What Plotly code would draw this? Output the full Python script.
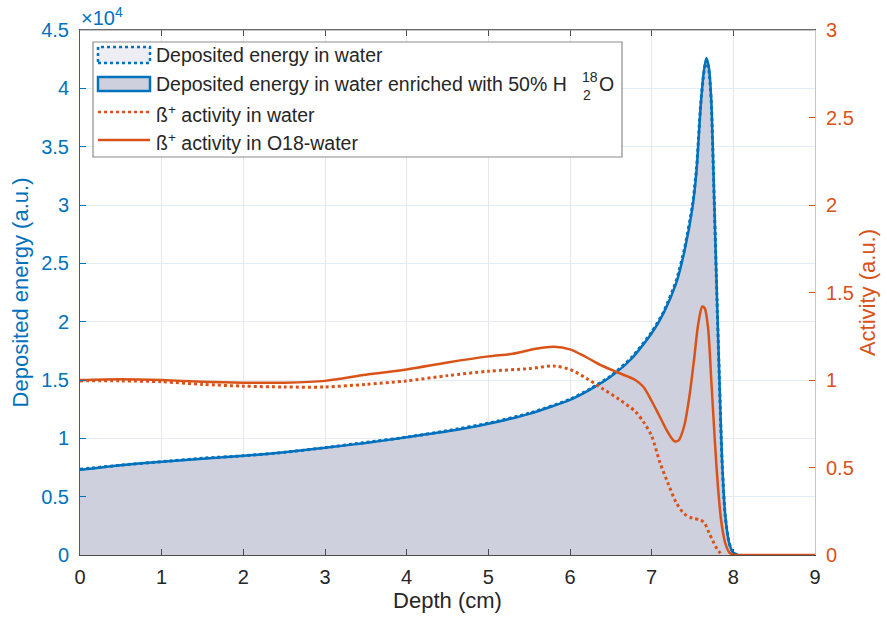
import plotly.graph_objects as go

# ---------------- data ----------------
depth_e = [0, 0.5, 1, 1.5, 2, 2.5, 3, 3.5, 4, 4.5, 5, 5.5, 6, 6.25, 6.5, 6.75, 7.0, 7.15, 7.3,
           7.4, 7.5, 7.55, 7.6, 7.64, 7.67, 7.70, 7.73, 7.76, 7.8, 7.83, 7.86, 7.9, 7.95, 8.0, 8.05]
energy_o18 = [0.73, 0.77, 0.80, 0.825, 0.85, 0.88, 0.92, 0.96, 1.01, 1.06, 1.125, 1.21, 1.33, 1.42,
              1.53, 1.68, 1.90, 2.08, 2.33, 2.60, 2.98, 3.30, 3.85, 4.15, 4.26, 4.18, 3.90, 3.20,
              2.20, 1.50, 0.85, 0.35, 0.10, 0.02, 0.0]
energy_water = [0.735, 0.77, 0.80, 0.83, 0.85, 0.88, 0.92, 0.965, 1.01, 1.065, 1.13, 1.215, 1.335, 1.425,
                1.535, 1.69, 1.91, 2.09, 2.35, 2.62, 3.00, 3.32, 3.86, 4.14, 4.24, 4.16, 3.88, 3.18,
                2.18, 1.48, 0.83, 0.34, 0.10, 0.02, 0.0]

depth_a18 = [0, 0.5, 1, 1.5, 2, 2.5, 3, 3.5, 4, 4.5, 5, 5.3, 5.6, 5.8, 6.0, 6.2, 6.4, 6.6, 6.8, 6.9,
             7.0, 7.1, 7.2, 7.28, 7.33, 7.4, 7.46, 7.52, 7.57, 7.62, 7.65, 7.69, 7.73, 7.77, 7.81,
             7.85, 7.9, 7.95, 8.0, 8.1, 8.5, 9.0]
activity_o18 = [1.0, 1.005, 1.0, 0.99, 0.985, 0.985, 0.995, 1.03, 1.06, 1.10, 1.135, 1.15, 1.18, 1.19,
                1.175, 1.13, 1.08, 1.04, 1.0, 0.96, 0.88, 0.79, 0.70, 0.65, 0.655, 0.74, 0.90, 1.12,
                1.32, 1.42, 1.41, 1.30, 1.0, 0.68, 0.40, 0.20, 0.07, 0.015, 0.0, 0.0, 0.0, 0.0]

depth_aw = [0, 0.5, 1, 1.5, 2, 2.5, 3, 3.5, 4, 4.5, 5, 5.5, 5.8, 6.0, 6.2, 6.4, 6.6, 6.8, 6.9, 7.0,
            7.1, 7.2, 7.3, 7.4, 7.5, 7.6, 7.65, 7.7, 7.75, 7.8, 7.86]
activity_water = [0.995, 0.995, 0.99, 0.975, 0.965, 0.96, 0.96, 0.975, 0.995, 1.025, 1.05, 1.065,
                  1.08, 1.06, 1.01, 0.95, 0.89, 0.82, 0.76, 0.68, 0.53, 0.41, 0.30, 0.235, 0.21,
                  0.20, 0.18, 0.13, 0.08, 0.035, 0.0]

x_ticks = [0, 1, 2, 3, 4, 5, 6, 7, 8, 9]
left_ticks = [0, 0.5, 1, 1.5, 2, 2.5, 3, 3.5, 4, 4.5]
right_ticks = [0, 0.5, 1, 1.5, 2, 2.5, 3]

BLUE = "#0072BD"
ORANGE = "#D95319"
FILL = "#CFD0DD"
TXT = "#262626"
FONT = "Liberation Sans, Arial, sans-serif"

fig = go.Figure()
fig.add_trace(go.Scatter(x=depth_e, y=energy_o18, mode="lines", fill="tozeroy", fillcolor=FILL,
                         line=dict(color=BLUE, width=2.5, shape="spline", smoothing=0.6), showlegend=False))
fig.add_trace(go.Scatter(x=depth_e, y=energy_water, mode="lines",
                         line=dict(color=BLUE, width=3, dash="dot", shape="spline", smoothing=0.6),
                         showlegend=False))
fig.add_trace(go.Scatter(x=depth_aw, y=activity_water, mode="lines", yaxis="y2",
                         line=dict(color=ORANGE, width=3, dash="dot", shape="spline", smoothing=0.8),
                         showlegend=False))
fig.add_trace(go.Scatter(x=depth_a18, y=activity_o18, mode="lines", yaxis="y2",
                         line=dict(color=ORANGE, width=2.5, shape="spline", smoothing=0.8),
                         showlegend=False))

# plot-area pixel geometry helpers (layout only)
PL, PR, PT, PB = 80, 815, 30, 555
def px(x):
    return (x - PL) / (PR - PL)
def py(y):
    return (PB - y) / (PB - PT)

shapes = []
annotations = []
# legend box
shapes.append(dict(type="rect", xref="paper", yref="paper", x0=px(93), x1=px(622), y0=py(157), y1=py(42),
                   line=dict(color="#8c8c8c", width=1.2), fillcolor="white", layer="above"))
# legend symbols
shapes.append(dict(type="rect", xref="paper", yref="paper", x0=px(98), x1=px(150), y0=py(63), y1=py(47),
                   line=dict(color=BLUE, width=2.5, dash="dot"), fillcolor="#EDEDF3", layer="above"))
shapes.append(dict(type="rect", xref="paper", yref="paper", x0=px(98), x1=px(150), y0=py(91), y1=py(77),
                   line=dict(color=BLUE, width=2.5), fillcolor=FILL, layer="above"))
shapes.append(dict(type="line", xref="paper", yref="paper", x0=px(98), x1=px(150), y0=py(112), y1=py(112),
                   line=dict(color=ORANGE, width=2.5, dash="dot"), layer="above"))
shapes.append(dict(type="line", xref="paper", yref="paper", x0=px(98), x1=px(150), y0=py(140), y1=py(140),
                   line=dict(color=ORANGE, width=2.5), layer="above"))

def lab(text, x, y, size=19.5, anchor="left"):
    annotations.append(dict(text=text, xref="paper", yref="paper", x=px(x), y=py(y), xanchor=anchor,
                            yanchor="middle", showarrow=False, font=dict(family=FONT, size=size, color=TXT)))

lab("Deposited energy in water", 154, 55)
lab("Deposited energy in water enriched with 50% H", 154, 84)
lab("18", 580, 77, size=14)
lab("2", 581, 95, size=14)
lab("O", 597, 84)
lab("ß<sup>+</sup> activity in water", 154, 114)
lab("ß<sup>+</sup> activity in O18-water", 154, 142)

# x10^4 exponent label
annotations.append(dict(text="×10<sup>4</sup>", xref="paper", yref="paper", x=px(79), y=py(16),
                        xanchor="left", yanchor="middle", showarrow=False,
                        font=dict(family=FONT, size=20, color=BLUE)))

fig.update_layout(
    width=887, height=617,
    margin=dict(l=PL, r=887 - PR, t=PT, b=617 - PB),
    paper_bgcolor="white", plot_bgcolor="white",
    font=dict(family=FONT, color=TXT),
    xaxis=dict(range=[0, 9], tickvals=x_ticks, ticks="inside", ticklen=6, tickcolor="#4d4d4d",
               showline=True, linecolor="#4d4d4d", linewidth=1, mirror="ticks", automargin=False,
               showgrid=True, gridcolor="#E6E6EC", zeroline=False,
               tickfont=dict(family=FONT, size=20, color=TXT), ticklabelstandoff=4,
               title=dict(text="Depth (cm)", font=dict(family=FONT, size=22, color=TXT), standoff=4)),
    yaxis=dict(range=[0, 4.5], tickvals=left_ticks, ticktext=[f"{v:g}" for v in left_ticks],
               ticks="inside", ticklen=6, tickcolor=BLUE, showline=True, linecolor=BLUE, linewidth=1,
               showgrid=True, gridcolor="#E3EDF7", zeroline=False, automargin=False,
               tickfont=dict(family=FONT, size=20, color=BLUE), ticklabelstandoff=6,
               title=dict(text="Deposited energy (a.u.)", font=dict(family=FONT, size=22, color=BLUE),
                          standoff=6)),
    yaxis2=dict(range=[0, 3], tickvals=right_ticks, ticktext=[f"{v:g}" for v in right_ticks],
                overlaying="y", side="right", ticks="inside", ticklen=6, tickcolor=ORANGE,
                showline=True, linecolor="#F0B9A0", linewidth=1, showgrid=False, zeroline=False,
                automargin=False,
                tickfont=dict(family=FONT, size=20, color=ORANGE), ticklabelstandoff=6,
                title=dict(text="Activity (a.u.)", font=dict(family=FONT, size=22, color=ORANGE),
                           standoff=6)),
    shapes=shapes,
    annotations=annotations,
)

# top frame line
fig.add_shape(type="line", xref="paper", yref="paper", x0=0, x1=1, y0=1, y1=1,
              line=dict(color="#8c8c8c", width=1), layer="above")

fig.write_html("out.html")
